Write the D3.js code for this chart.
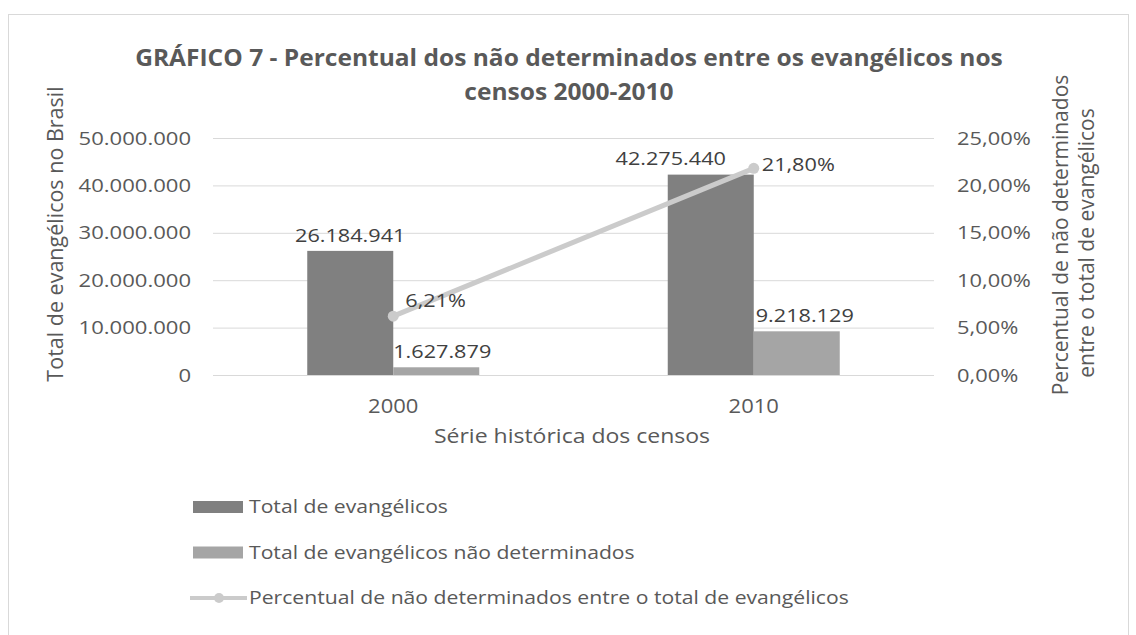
<!DOCTYPE html>
<html>
<head>
<meta charset="utf-8">
<script src="https://cdn.jsdelivr.net/npm/d3@7"></script>
<style>
	body { margin: 0; background: #fff; }
	text { font-family: "Open Sans", "Noto Sans", sans-serif; }
</style>
</head>
<body>
<div id="chart"></div>
<script>
// data
const years = ["2000", "2010"]
const totalEvangelicos = [26184941, 42275440]
const naoDeterminados = [1627879, 9218129]
const percentual = [0.0621, 0.218]
const leftTicks = [0, 10000000, 20000000, 30000000, 40000000, 50000000]
const rightTicks = [0, 0.05, 0.1, 0.15, 0.2, 0.25]
const seriesNames = [
	"Total de evangélicos",
	"Total de evangélicos não determinados",
	"Percentual de não determinados entre o total de evangélicos",
]
const titleLines = [
	"GRÁFICO 7 - Percentual dos não determinados entre os evangélicos nos",
	"censos 2000-2010",
]
const rightTitleLines = ["Percentual de não determinados", "entre o total de evangélicos"]

const width = 1136
const height = 635
const plot = { left: 213, right: 934, top: 138, bottom: 375 }
const colors = { dark: "#808080", light: "#a5a5a5", line: "#cbcbcb", text: "#595959", label: "#404040", grid: "#d9d9d9" }

const fmtInt = (v) => d3.format(",")(v).replace(/,/g, ".")
const fmtPct = (v) => (v * 100).toFixed(2).replace(".", ",") + "%"

// the original text is set a bit wider than Open Sans, widen glyphs to match
function stretch(sel, k) {
	sel.each(function () {
		const len = this.getComputedTextLength()
		d3.select(this)
			.attr("textLength", len * k)
			.attr("lengthAdjust", "spacingAndGlyphs")
	})
}

const svg = d3
	.select("#chart")
	.append("svg")
	.attr("width", width)
	.attr("height", height)

// chart frame
svg.append("rect")
	.attr("x", 8.5)
	.attr("y", 14.5)
	.attr("width", 1120)
	.attr("height", 700)
	.attr("fill", "#fff")
	.attr("stroke", colors.grid)

// scales
const x = d3.scaleBand().domain(years).range([plot.left, plot.right])
const xSub = d3.scaleBand().domain([0, 1]).range([-86, 86])
const yLeft = d3.scaleLinear().domain([0, 50000000]).range([plot.bottom, plot.top])
const yRight = d3.scaleLinear().domain([0, 0.25]).range([plot.bottom, plot.top])

// gridlines
svg.append("g")
	.attr("transform", `translate(${plot.left},0)`)
	.call(d3.axisLeft(yLeft).tickValues(leftTicks).tickSize(-(plot.right - plot.left)).tickFormat(""))
	.call((g) => g.select(".domain").remove())
	.selectAll("line")
	.attr("stroke", colors.grid)

// left axis labels
svg.append("g")
	.attr("transform", `translate(${plot.left},0)`)
	.call(d3.axisLeft(yLeft).tickValues(leftTicks).tickSize(0).tickPadding(22).tickFormat(fmtInt))
	.call((g) => g.select(".domain").remove())
	.selectAll("text")
	.attr("fill", colors.text)
	.style("font-size", "19px")
	.style("font-family", null)
	.call(stretch, 1.16)

// right axis labels
svg.append("g")
	.attr("transform", `translate(${plot.right},0)`)
	.call(d3.axisRight(yRight).tickValues(rightTicks).tickSize(0).tickPadding(23).tickFormat(fmtPct))
	.call((g) => g.select(".domain").remove())
	.selectAll("text")
	.attr("fill", colors.text)
	.style("font-size", "19px")
	.style("font-family", null)
	.call(stretch, 1.15)

// x axis labels
svg.append("g")
	.attr("transform", `translate(0,${plot.bottom})`)
	.call(d3.axisBottom(x).tickSize(0).tickPadding(24))
	.call((g) => g.select(".domain").remove())
	.selectAll("text")
	.attr("fill", colors.text)
	.style("font-size", "20px")
	.style("font-family", null)
	.call(stretch, 1.1)

// bars
const barSeries = [
	{ values: totalEvangelicos, color: colors.dark },
	{ values: naoDeterminados, color: colors.light },
]
barSeries.forEach((s, i) => {
	svg.append("g")
		.selectAll("rect")
		.data(years)
		.join("rect")
		.attr("x", (d) => x(d) + x.bandwidth() / 2 + xSub(i))
		.attr("y", (d, j) => yLeft(s.values[j]))
		.attr("width", xSub.bandwidth())
		.attr("height", (d, j) => plot.bottom - yLeft(s.values[j]))
		.attr("fill", s.color)
})

// bar labels (nudged like in the original)
const barLabelShift = [[0, -40], [6, 8]]
barSeries.forEach((s, i) => {
	svg.append("g")
		.selectAll("text")
		.data(years)
		.join("text")
		.attr("x", (d, j) => x(d) + x.bandwidth() / 2 + xSub(i) + xSub.bandwidth() / 2 + barLabelShift[i][j])
		.attr("y", (d, j) => yLeft(s.values[j]) - 16)
		.attr("dy", "0.35em")
		.attr("text-anchor", "middle")
		.attr("fill", colors.label)
		.style("font-size", "19px")
		.text((d, j) => fmtInt(s.values[j]))
		.call(stretch, 1.14)
})

// percent line
const cx = (d) => x(d) + x.bandwidth() / 2
const line = d3
	.line()
	.x((d) => cx(d))
	.y((d, j) => yRight(percentual[j]))

svg.append("path")
	.datum(years)
	.attr("fill", "none")
	.attr("stroke", colors.line)
	.attr("stroke-width", 5)
	.attr("d", line)

svg.append("g")
	.selectAll("circle")
	.data(years)
	.join("circle")
	.attr("cx", cx)
	.attr("cy", (d, j) => yRight(percentual[j]))
	.attr("r", 5.5)
	.attr("fill", colors.line)

const pctLabelOffset = [[12, -16], [8, -4]]
svg.append("g")
	.selectAll("text")
	.data(years)
	.join("text")
	.attr("x", (d, j) => cx(d) + pctLabelOffset[j][0])
	.attr("y", (d, j) => yRight(percentual[j]) + pctLabelOffset[j][1])
	.attr("dy", "0.35em")
	.attr("fill", colors.label)
	.style("font-size", "19px")
	.text((d, j) => fmtPct(percentual[j]))
	.call(stretch, 1.14)

// titles
titleLines.forEach((t, i) => {
	svg.append("text")
		.attr("x", 569)
		.attr("y", 66 + i * 34)
		.attr("text-anchor", "middle")
		.attr("fill", colors.text)
		.style("font-size", "22.5px")
		.style("font-weight", "bold")
		.text(t)
		.call(stretch, 1.09)
})

svg.append("text")
	.attr("x", 572)
	.attr("y", 443)
	.attr("text-anchor", "middle")
	.attr("fill", colors.text)
	.style("font-size", "20px")
	.text("Série histórica dos censos")
	.call(stretch, 1.15)

svg.append("text")
	.attr("transform", "translate(63,234) rotate(-90)")
	.attr("text-anchor", "middle")
	.attr("fill", colors.text)
	.style("font-size", "21.5px")
	.text("Total de evangélicos no Brasil")

rightTitleLines.forEach((t, i) => {
	svg.append("text")
		.attr("transform", `translate(${1068 + i * 26},${235 + i * 8}) rotate(-90)`)
		.attr("text-anchor", "middle")
		.attr("fill", colors.text)
		.style("font-size", "21px")
		.text(t)
})

// legend
const legend = svg.append("g").attr("transform", "translate(193,507)")
seriesNames.forEach((name, i) => {
	const row = legend.append("g").attr("transform", `translate(0,${i * 45.5})`)
	if (i < 2) {
		row.append("rect")
			.attr("x", 0)
			.attr("y", -6)
			.attr("width", 50)
			.attr("height", 12)
			.attr("fill", barSeries[i].color)
	} else {
		row.append("line")
			.attr("x1", -3)
			.attr("x2", 54)
			.attr("stroke", colors.line)
			.attr("stroke-width", 4)
		row.append("circle")
			.attr("cx", 26)
			.attr("r", 5)
			.attr("fill", colors.line)
	}
	row.append("text")
		.attr("x", 56)
		.attr("dy", "0.35em")
		.attr("fill", colors.text)
		.style("font-size", "18px")
		.text(name)
		.call(stretch, 1.175)
})
</script>
</body>
</html>
